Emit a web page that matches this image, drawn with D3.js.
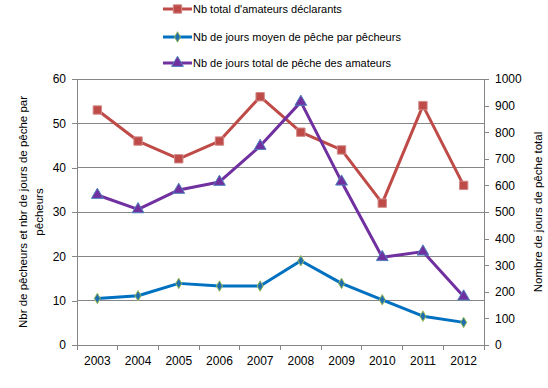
<!DOCTYPE html>
<html>
<head>
<meta charset="utf-8">
<script src="https://cdn.jsdelivr.net/npm/d3@7"></script>
<style>
  body { margin: 0; background: #fff; }
  svg text { font-family: "Liberation Sans", Arial, sans-serif; fill: #000; }
</style>
</head>
<body>
<div id="chart"></div>
<script>
var years = ["2003", "2004", "2005", "2006", "2007", "2008", "2009", "2010", "2011", "2012"];
var amateurs = [53, 46, 42, 46, 56, 48, 44, 32, 54, 36];
var joursMoyen = [10.5, 11.1, 13.9, 13.3, 13.3, 19, 13.9, 10.2, 6.5, 5.1];
var joursTotal = [564, 510, 583, 613, 748, 914, 614, 330, 351, 182];
var leftTicks = [0, 10, 20, 30, 40, 50, 60];
var rightTicks = [0, 100, 200, 300, 400, 500, 600, 700, 800, 900, 1000];

var width = 548, height = 388;
var margin = {left: 77, right: 64, top: 79, bottom: 43};

var svg = d3.select("#chart").append("svg")
    .attr("width", width)
    .attr("height", height);

var x = d3.scaleBand().domain(years).range([margin.left, width - margin.right]);
var yL = d3.scaleLinear().domain([0, 60]).range([height - margin.bottom, margin.top]);
var yR = d3.scaleLinear().domain([0, 1000]).range([height - margin.bottom, margin.top]);

// gridlines
svg.append("g").selectAll("line")
    .data(leftTicks.slice(1))
    .enter().append("line")
    .attr("x1", margin.left).attr("x2", width - margin.right)
    .attr("y1", function(d) { return yL(d); }).attr("y2", function(d) { return yL(d); })
    .attr("stroke", "#868686").attr("stroke-width", 1).attr("shape-rendering", "crispEdges");

// left axis
var gL = svg.append("g")
    .attr("transform", "translate(" + margin.left + ",0)")
    .call(d3.axisLeft(yL).tickValues(leftTicks).tickSize(5).tickPadding(6));
// right axis
var gR = svg.append("g")
    .attr("transform", "translate(" + (width - margin.right) + ",0)")
    .call(d3.axisRight(yR).tickValues(rightTicks).tickFormat(d3.format("d")).tickSize(5).tickPadding(6));
// bottom axis
var gB = svg.append("g")
    .attr("transform", "translate(0," + (height - margin.bottom) + ")")
    .call(d3.axisBottom(x).tickSize(0).tickPadding(11));

// band boundary ticks on the category axis
gB.selectAll(".bt")
    .data(years.concat(["end"]))
    .enter().append("line")
    .attr("x1", function(d, i) { return i < years.length ? x(d) : x.range()[1]; })
    .attr("x2", function(d, i) { return i < years.length ? x(d) : x.range()[1]; })
    .attr("y1", 0).attr("y2", 5)
    .attr("stroke", "#868686").attr("shape-rendering", "crispEdges");

[gL, gR, gB].forEach(function(g) {
  g.selectAll(".domain").attr("stroke", "#868686").attr("shape-rendering", "crispEdges");
  g.selectAll(".tick line").attr("stroke", "#868686").attr("shape-rendering", "crispEdges");
  g.selectAll("text").style("font-size", "12px").style("font-family", "Liberation Sans, Arial, sans-serif").attr("fill", "#000");
});

// axis titles
var tL = svg.append("text")
    .attr("transform", "translate(27," + ((margin.top + height - margin.bottom) / 2) + ") rotate(-90)")
    .attr("text-anchor", "middle")
    .style("font-size", "11.5px");
tL.append("tspan").attr("x", 0).attr("dy", "0").text("Nbr de pêcheurs et nbr de jours de pêche par");
tL.append("tspan").attr("x", 0).attr("dy", "16").text("pêcheurs");

svg.append("text")
    .attr("transform", "translate(542," + ((margin.top + height - margin.bottom) / 2) + ") rotate(-90)")
    .attr("text-anchor", "middle")
    .style("font-size", "11.5px")
    .text("Nombre de jours de pêche total");

var cx = function(d, i) { return x(years[i]) + x.bandwidth() / 2; };

var series = [
  {name: "Nb total d'amateurs déclarants", values: amateurs, y: yL, color: "#BE4B48", symbol: d3.symbolSquare, size: 70, fill: "#BE4B48", stroke: "#D08A88"},
  {name: "Nb de jours moyen de pêche par pêcheurs", values: joursMoyen, y: yL, color: "#0070C0", symbol: d3.symbolDiamond, size: 32, fill: "#1F6FB0", stroke: "#9BBB59"},
  {name: "Nb de jours total de pêche des amateurs", values: joursTotal, y: yR, color: "#7030A0", symbol: d3.symbolTriangle, size: 60, fill: "#7030A0", stroke: "#4F81BD"}
];

series.forEach(function(s) {
  var line = d3.line()
      .x(cx)
      .y(function(d) { return s.y(d); });
  svg.append("path")
      .datum(s.values)
      .attr("d", line)
      .attr("fill", "none")
      .attr("stroke", s.color)
      .attr("stroke-width", 3)
      .attr("stroke-linejoin", "round");
  svg.append("g").selectAll("path")
      .data(s.values)
      .enter().append("path")
      .attr("transform", function(d, i) { return "translate(" + cx(d, i) + "," + s.y(d) + ")"; })
      .attr("d", d3.symbol().type(s.symbol).size(s.size))
      .attr("fill", s.fill)
      .attr("stroke", s.stroke)
      .attr("stroke-width", 1);
});

// legend
var legend = svg.append("g");
var rows = [9, 37, 63];
series.forEach(function(s, i) {
  var g = legend.append("g").attr("transform", "translate(163," + rows[i] + ")");
  g.append("line").attr("x1", 0).attr("x2", 29).attr("y1", 0).attr("y2", 0)
    .attr("stroke", s.color).attr("stroke-width", 3);
  g.append("path").attr("transform", "translate(14.5,0)")
    .attr("d", d3.symbol().type(s.symbol).size(s.size))
    .attr("fill", s.fill).attr("stroke", s.stroke);
  g.append("text").attr("x", 30).attr("y", 4).style("font-size", "11px").text(s.name);
});
</script>
</body>
</html>
